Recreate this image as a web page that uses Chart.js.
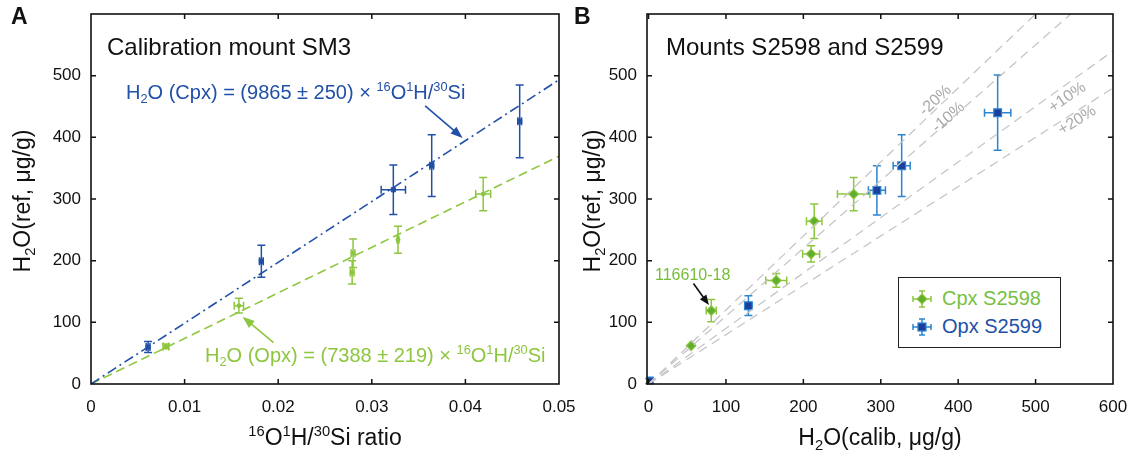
<!DOCTYPE html>
<html><head><meta charset="utf-8">
<script src="https://cdn.jsdelivr.net/npm/chart.js@4.4.1/dist/chart.umd.min.js"></script>
<style>
html,body{margin:0;padding:0;background:#fff;}
#wrap{position:relative;width:1131px;height:452px;overflow:hidden;background:#fff;font-family:'Liberation Sans',Arial,Helvetica,sans-serif;}
canvas{position:absolute;top:0;}
.t{position:absolute;white-space:nowrap;line-height:1;z-index:5;}
.l{transform:translateY(-50%);}
.c{transform:translate(-50%,-50%);}
.v{transform:translate(-50%,-50%) rotate(-90deg);}
sub,sup{font-size:64%;line-height:0;position:relative;vertical-align:baseline;}
sup{top:-0.62em;} sub{top:0.32em;}
.leg{position:absolute;left:898px;top:277px;width:161px;height:69px;border:1.5px solid #222;z-index:5;background:#fff;}
.legrow{position:absolute;left:12px;display:flex;align-items:center;font-size:20px;white-space:nowrap;}
.legrow svg{margin-right:9px;}
</style></head>
<body><div id="wrap">
<canvas id="cA" width="590" height="452" style="left:0;width:590px;height:452px"></canvas>
<canvas id="cB" width="541" height="452" style="left:590px;width:541px;height:452px"></canvas>

<div class="t l" style="left:11px;top:16px;font-size:23px;font-weight:bold;color:#111">A</div>
<div class="t l" style="left:574px;top:16px;font-size:23px;font-weight:bold;color:#111">B</div>

<div class="t l" style="left:107px;top:47px;font-size:24px;color:#111">Calibration mount SM3</div>
<div class="t l" style="left:126px;top:92px;font-size:20px;color:#2150a8">H<sub>2</sub>O (Cpx) = (9865 ± 250) × <sup>16</sup>O<sup>1</sup>H/<sup>30</sup>Si</div>
<div class="t l" style="left:205px;top:355px;font-size:20px;color:#8dc63f">H<sub>2</sub>O (Opx) = (7388 ± 219) × <sup>16</sup>O<sup>1</sup>H/<sup>30</sup>Si</div>
<div class="t v" style="left:22px;top:201px;font-size:23px;color:#111">H<sub>2</sub>O(ref, μg/g)</div>
<div class="t c" style="left:325px;top:437px;font-size:23px;color:#111"><sup>16</sup>O<sup>1</sup>H/<sup>30</sup>Si ratio</div>

<div class="t l" style="left:666px;top:47px;font-size:24px;color:#111">Mounts S2598 and S2599</div>
<div class="t v" style="left:592px;top:201px;font-size:23px;color:#111">H<sub>2</sub>O(ref, μg/g)</div>
<div class="t c" style="left:880px;top:437px;font-size:23px;color:#111">H<sub>2</sub>O(calib, μg/g)</div>
<div class="t l" style="left:655px;top:275px;font-size:16px;color:#76bd3a">116610-18</div>

<div class="t c" style="left:935px;top:100px;font-size:16px;color:#a9a9a9;transform:translate(-50%,-50%) rotate(-43deg)">-20%</div>
<div class="t c" style="left:948px;top:117px;font-size:16px;color:#a9a9a9;transform:translate(-50%,-50%) rotate(-41deg)">-10%</div>
<div class="t c" style="left:1067px;top:97px;font-size:16px;color:#a9a9a9;transform:translate(-50%,-50%) rotate(-35deg)">+10%</div>
<div class="t c" style="left:1077px;top:120px;font-size:16px;color:#a9a9a9;transform:translate(-50%,-50%) rotate(-32deg)">+20%</div>

<div class="leg">
  <div class="legrow" style="top:9px;color:#77c043">
    <svg width="22" height="20" viewBox="0 0 22 20"><g stroke="#8dc63f" stroke-width="1.5"><line x1="2" y1="10" x2="20" y2="10"/><line x1="11" y1="2" x2="11" y2="18"/><line x1="2" y1="7" x2="2" y2="13"/><line x1="20" y1="7" x2="20" y2="13"/><line x1="8" y1="2" x2="14" y2="2"/><line x1="8" y1="18" x2="14" y2="18"/></g><polygon points="11,5 16,10 11,15 6,10" fill="#5fae2e" stroke="#8dc63f" stroke-width="1.2"/></svg>
    <span>Cpx S2598</span></div>
  <div class="legrow" style="top:37px;color:#2150a8">
    <svg width="22" height="20" viewBox="0 0 22 20"><g stroke="#2a85d2" stroke-width="1.5"><line x1="2" y1="10" x2="20" y2="10"/><line x1="11" y1="2" x2="11" y2="18"/><line x1="2" y1="7" x2="2" y2="13"/><line x1="20" y1="7" x2="20" y2="13"/><line x1="8" y1="2" x2="14" y2="2"/><line x1="8" y1="18" x2="14" y2="18"/></g><rect x="7" y="6" width="8" height="8" fill="#1d3f9c" stroke="#2a85d2" stroke-width="1.2"/></svg>
    <span>Opx S2599</span></div>
</div>
</div>
<script>
// ---------- Panel A data ----------
const xTicksA = [0, 0.01, 0.02, 0.03, 0.04, 0.05];
const yTicksA = [0, 100, 200, 300, 400, 500];
const cpxRatioA    = [0.0061, 0.0182, 0.0323, 0.0364, 0.0458];
const cpxRefA      = [60, 199, 315, 354, 426];
const cpxRatioErrA = [0.0002, 0.0002, 0.0013, 0.0002, 0.0002];
const cpxRefErrA   = [9, 26, 40, 50, 59];
const opxRatioA    = [0.0080, 0.0158, 0.0279, 0.0280, 0.0328, 0.0419];
const opxRefA      = [61, 127, 181, 212, 234, 308];
const opxRatioErrA = [0.0003, 0.0005, 0.0002, 0.0002, 0.0001, 0.0008];
const opxRefErrA   = [4, 12, 19, 23, 22, 27];
const fitSlopes    = [9865, 7388]; // Cpx, Opx

// ---------- Panel B data ----------
const xTicksB = [0, 100, 200, 300, 400, 500, 600];
const yTicksB = [0, 100, 200, 300, 400, 500];
const cpxCalibB    = [55, 81, 165, 210, 214, 265];
const cpxRefB      = [62, 119, 168, 211, 264, 308];
const cpxCalibErrB = [0, 6.5, 13.5, 11, 10, 21];
const cpxRefErrB   = [0, 18, 11, 13, 28, 27];
const opxCalibB    = [1, 129, 295, 327, 451];
const opxRefB      = [5, 127, 314, 354, 440];
const opxCalibErrB = [2, 2, 11, 11, 17];
const opxRefErrB   = [4, 16, 40, 50, 61];
const devFactors   = [1.2, 1.1, 0.9, 0.8];   // -20%, -10%, +10%, +20%

const FONT = "'Liberation Sans', Arial, Helvetica, sans-serif";
const BLUE = '#2150a8', GREEN = '#8dc63f';

const zip = (xs, ys) => xs.map((v, i) => ({x: v, y: ys[i]}));

const framePlugin = {
  id: 'frame',
  afterDraw(chart) {
    const {ctx, chartArea: a, scales: {x, y}} = chart;
    ctx.save();
    ctx.strokeStyle = '#111';
    ctx.lineWidth = 1.6;
    ctx.strokeRect(a.left, a.top, a.right - a.left, a.bottom - a.top);
    ctx.lineWidth = 1.5;
    const L = 5;
    ctx.beginPath();
    x.ticks.forEach(t => {
      const p = x.getPixelForValue(t.value);
      if (p <= a.left + 1 || p >= a.right - 1) return;
      ctx.moveTo(p, a.bottom); ctx.lineTo(p, a.bottom - L);
      ctx.moveTo(p, a.top); ctx.lineTo(p, a.top + L);
    });
    y.ticks.forEach(t => {
      const p = y.getPixelForValue(t.value);
      if (p >= a.bottom - 1 || p <= a.top + 1) return;
      ctx.moveTo(a.left, p); ctx.lineTo(a.left + L, p);
      ctx.moveTo(a.right, p); ctx.lineTo(a.right - L, p);
    });
    ctx.stroke();
    ctx.restore();
  }
};

const errorBarPlugin = {
  id: 'errorBars',
  beforeDatasetsDraw(chart) {
    const {ctx, scales: {x, y}} = chart;
    chart.data.datasets.forEach(ds => {
      if (!ds.errY && !ds.errX) return;
      ctx.save();
      ctx.strokeStyle = ds.errColor;
      ctx.lineWidth = 1.5;
      const cap = ds.capHalf || 3.5;
      ctx.beginPath();
      ds.data.forEach((p, j) => {
        const px = x.getPixelForValue(p.x), py = y.getPixelForValue(p.y);
        const ey = ds.errY ? ds.errY[j] : 0, ex = ds.errX ? ds.errX[j] : 0;
        if (ey > 0) {
          const y1 = y.getPixelForValue(p.y - ey), y2 = y.getPixelForValue(p.y + ey);
          ctx.moveTo(px, y1); ctx.lineTo(px, y2);
          ctx.moveTo(px - cap, y1); ctx.lineTo(px + cap, y1);
          ctx.moveTo(px - cap, y2); ctx.lineTo(px + cap, y2);
        }
        if (ex > 0) {
          const x1 = x.getPixelForValue(p.x - ex), x2 = x.getPixelForValue(p.x + ex);
          ctx.moveTo(x1, py); ctx.lineTo(x2, py);
          ctx.moveTo(x1, py - cap); ctx.lineTo(x1, py + cap);
          ctx.moveTo(x2, py - cap); ctx.lineTo(x2, py + cap);
        }
      });
      ctx.stroke();
      ctx.restore();
    });
  }
};

const arrowPlugin = {
  id: 'arrows',
  afterDatasetsDraw(chart, args, opts) {
    const {ctx, scales: {x, y}} = chart;
    (opts.items || []).forEach(a => {
      const x1 = x.getPixelForValue(a.from[0]), y1 = y.getPixelForValue(a.from[1]);
      const x2 = x.getPixelForValue(a.to[0]), y2 = y.getPixelForValue(a.to[1]);
      const ang = Math.atan2(y2 - y1, x2 - x1);
      const hl = a.head || 12, hw = a.hw || 4.5;
      ctx.save();
      ctx.strokeStyle = a.color; ctx.fillStyle = a.color; ctx.lineWidth = 1.6;
      ctx.beginPath();
      ctx.moveTo(x1, y1);
      ctx.lineTo(x2 - Math.cos(ang) * hl * 0.8, y2 - Math.sin(ang) * hl * 0.8);
      ctx.stroke();
      ctx.beginPath();
      ctx.moveTo(x2, y2);
      ctx.lineTo(x2 - Math.cos(ang) * hl - Math.sin(ang) * hw, y2 - Math.sin(ang) * hl + Math.cos(ang) * hw);
      ctx.lineTo(x2 - Math.cos(ang) * hl + Math.sin(ang) * hw, y2 - Math.sin(ang) * hl - Math.cos(ang) * hw);
      ctx.closePath();
      ctx.fill();
      ctx.restore();
    });
  }
};

function axisOpts(ticksArr, min, max, fixed, isX, fmt) {
  return {
    type: 'linear', min, max,
    grid: {display: false, drawTicks: false},
    border: {display: false},
    afterBuildTicks: s => { s.ticks = ticksArr.map(v => ({value: v})); },
    afterFit: s => {
      if (isX) { s.height = fixed; s.paddingLeft = 0; s.paddingRight = 0; }
      else { s.width = fixed; s.paddingTop = 0; s.paddingBottom = 0; }
    },
    ticks: {
      autoSkip: false, maxRotation: 0, color: '#111',
      padding: isX ? 13 : 10,
      font: {family: FONT, size: 17},
      callback: v => fmt ? fmt(v) : String(v)
    }
  };
}

const xMaxA = xTicksA[xTicksA.length - 1];
new Chart(document.getElementById('cA'), {
  type: 'scatter',
  data: {
    datasets: [
      {label: 'Cpx fit', data: [{x: 0, y: 0}, {x: xMaxA, y: fitSlopes[0] * xMaxA}], showLine: true,
       pointRadius: 0, borderColor: BLUE, borderWidth: 1.6, borderDash: [10, 4, 2, 4]},
      {label: 'Opx fit', data: [{x: 0, y: 0}, {x: xMaxA, y: fitSlopes[1] * xMaxA}], showLine: true,
       pointRadius: 0, borderColor: GREEN, borderWidth: 1.6, borderDash: [9, 5]},
      {label: 'Cpx', data: zip(cpxRatioA, cpxRefA), errX: cpxRatioErrA, errY: cpxRefErrA, errColor: BLUE,
       capHalf: 4, pointStyle: 'rect', pointRadius: 3, backgroundColor: BLUE, borderColor: BLUE, borderWidth: 1},
      {label: 'Opx', data: zip(opxRatioA, opxRefA), errX: opxRatioErrA, errY: opxRefErrA, errColor: GREEN,
       capHalf: 4, pointStyle: 'circle', pointRadius: 2, backgroundColor: GREEN, borderColor: GREEN, borderWidth: 1}
    ]
  },
  options: {
    responsive: false, animation: false, devicePixelRatio: 1,
    layout: {padding: {left: 0, right: 31, top: 14, bottom: 0}},
    scales: {
      x: axisOpts(xTicksA, 0, 0.05, 68, true, v => String(+v.toFixed(2))),
      y: axisOpts(yTicksA, 0, 600, 91, false)
    },
    plugins: {
      legend: {display: false}, tooltip: {enabled: false},
      arrows: {items: [
        {from: [0.0357, 451], to: [0.0397, 399], color: BLUE},
        {from: [0.0195, 67], to: [0.0162, 109], color: GREEN}
      ]}
    }
  },
  plugins: [errorBarPlugin, arrowPlugin, framePlugin]
});

const xMaxB = xTicksB[xTicksB.length - 1];
const devDatasets = devFactors.map(k => ({
  label: 'dev ' + k, data: [{x: 0, y: 0}, {x: xMaxB, y: k * xMaxB}], showLine: true,
  pointRadius: 0, borderColor: '#c6c6c6', borderWidth: 1.3, borderDash: [9, 6]
}));

new Chart(document.getElementById('cB'), {
  type: 'scatter',
  data: {
    datasets: devDatasets.concat([
      {label: 'Cpx S2598', data: zip(cpxCalibB, cpxRefB), errX: cpxCalibErrB, errY: cpxRefErrB, errColor: GREEN,
       capHalf: 4, pointStyle: 'rectRot', pointRadius: 4.8, backgroundColor: '#5fae2e', borderColor: GREEN, borderWidth: 1.2},
      {label: 'Opx S2599', data: zip(opxCalibB, opxRefB), errX: opxCalibErrB, errY: opxRefErrB, errColor: '#2a85d2',
       capHalf: 4, pointStyle: 'rect', pointRadius: 5.5, backgroundColor: '#1d3f9c', borderColor: '#2a85d2', borderWidth: 1.2}
    ])
  },
  options: {
    responsive: false, animation: false, devicePixelRatio: 1,
    layout: {padding: {left: 0, right: 18, top: 14, bottom: 0}},
    scales: {
      x: axisOpts(xTicksB, -2, 600, 68, true),
      y: axisOpts(yTicksB, 0, 600, 57, false)
    },
    plugins: {
      legend: {display: false}, tooltip: {enabled: false},
      arrows: {items: [
        {from: [58, 163], to: [78, 128], color: '#111', head: 10, hw: 4}
      ]}
    }
  },
  plugins: [errorBarPlugin, arrowPlugin, framePlugin]
});
</script>
</body></html>
